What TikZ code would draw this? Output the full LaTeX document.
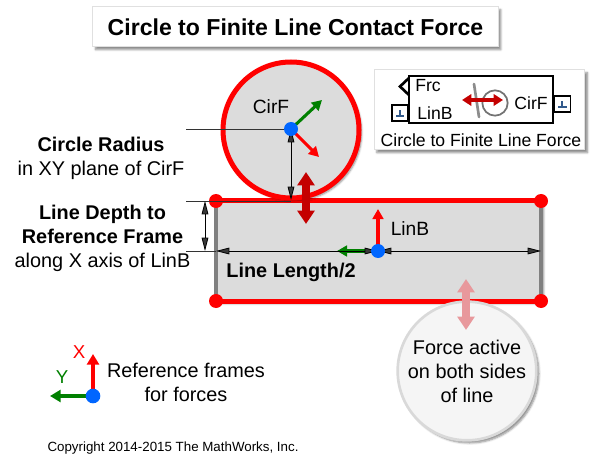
\documentclass[tikz,border=0pt]{standalone}
\usepackage{fontspec}
\setmainfont{Liberation Sans}
\usetikzlibrary{arrows.meta,shadows.blur}
\definecolor{lineRed}{RGB}{255,0,0}
\definecolor{forceRed}{RGB}{196,0,0}
\definecolor{forcePink}{RGB}{232,152,156}
\definecolor{frameGreen}{RGB}{0,128,0}
\definecolor{frameBlue}{RGB}{0,102,255}
\definecolor{bodyGray}{RGB}{220,220,220}
\definecolor{portBlue}{RGB}{50,90,140}
\tikzset{
	softshadow/.style={blur shadow={shadow xshift=2pt,shadow yshift=-2pt,shadow blur radius=1.5pt,shadow blur steps=5,shadow opacity=45}},
	card/.style={draw=black!12,line width=0.75pt,fill=white,softshadow},
	label/.style={inner sep=0pt,font=\fontsize{14.9}{18}\selectfont,align=center},
	boldlabel/.style={label,font=\fontsize{14.9}{18}\selectfont\bfseries},
	blocklabel/.style={inner sep=0pt,font=\fontsize{13.2}{15}\selectfont},
	corner/.style={circle,fill=lineRed,minimum size=10.5pt,inner sep=0pt},
	framedot/.style={circle,fill=frameBlue,minimum size=10.5pt,inner sep=0pt},
	frameaxis/.style={line width=3pt,-{Triangle[width=9pt,length=8pt]}},
	thinaxis/.style={line width=2.3pt,-{Triangle[width=8pt,length=7.5pt]}},
	dimline/.style={line width=0.6pt,{Triangle[width=5pt,length=10pt]}-{Triangle[width=5pt,length=10pt]}},
	guideline/.style={line width=0.45pt,black!80},
	forcearrow/.style={line width=5.5pt,{Triangle[width=12.5pt,length=10pt]}-{Triangle[width=12.5pt,length=10pt]}},
	redline/.style={line width=3.75pt,lineRed}
}

\begin{document}
\begin{tikzpicture}[x=0.75pt,y=-0.75pt]
	%%%%% START %%%%%
	\useasboundingbox (0,0) rectangle (595,463);
	
	\node[card,minimum width=304pt,minimum height=30pt] (titlebox) at (295.5,27) {};
	\node[inner sep=0pt,font=\fontsize{17.3}{20}\selectfont\bfseries] (title) at (titlebox.center) {Circle to Finite Line Contact Force};
	
	% line body
	\coordinate (nw) at (216,201);
	\coordinate (ne) at (541,201);
	\coordinate (sw) at (216,301);
	\coordinate (se) at (541,301);
	\fill[bodyGray,softshadow] (nw) rectangle (se);
	\draw[line width=2.6pt,black!50] (nw) -- (sw);
	\draw[line width=2.6pt,black!50] (ne) -- (se);
	\draw[redline] (nw) -- (ne);
	\draw[redline] (sw) -- (se);
	\node[corner] (cnw) at (nw) {};
	\node[corner] (cne) at (ne) {};
	\node[corner] (csw) at (sw) {};
	\node[corner] (cse) at (se) {};
	
	% circle body
	\node[circle,draw=lineRed,line width=3.75pt,fill=bodyGray,minimum size=102pt,inner sep=0pt,softshadow] (circ) at (291,130) {};
	\node[inner sep=0pt,font=\fontsize{14.4}{16}\selectfont] (cirlabel) at (271,107) {CirF};
	
	% guide lines and dimensions
	\coordinate (cirF) at (291,129);
	\coordinate (linB) at (378,251);
	\coordinate (cirbot) at (291,200);
	\coordinate (guideA) at (186,129);
	\coordinate (guideB) at (186,201);
	\coordinate (guideC) at (186,251);
	\coordinate (depthtop) at (205,201);
	\coordinate (depthbot) at (205,251);
	\coordinate (lenleft) at (216,251);
	\coordinate (lenright) at (541,251);
	\draw[guideline] (guideA) -- (cirF);
	\draw[guideline] (guideB) -- (nw);
	\draw[guideline] (nw) -- (cirbot |- nw);
	\draw[guideline] (guideC) -- (lenleft);
	\draw[dimline] (cirF) -- (cirbot);
	\draw[dimline] (depthtop) -- (depthbot);
	
	% frame of circle
	\coordinate (cirX) at (319,157);
	\coordinate (cirY) at (322,100);
	\draw[thinaxis,lineRed] (cirF) -- (cirX);
	\draw[thinaxis,frameGreen] (cirF) -- (cirY);
	
	% frame of line
	\coordinate (linX) at (378,209);
	\coordinate (linY) at (337,251);
	\draw[thinaxis,lineRed] (linB) -- (linX);
	\draw[thinaxis,frameGreen] (linB) -- (linY);
	\draw[dimline] (lenleft) -- (linB);
	\draw[dimline] (linB) -- (lenright);
	\node[framedot] (dotcir) at (cirF) {};
	\node[framedot] (dotlin) at (linB) {};
	\node[inner sep=0pt,font=\fontsize{14.4}{16}\selectfont] (linlabel) at (410,229) {LinB};
	\node[boldlabel] (lenlabel) at (291,272) {Line Length/2};
	
	% force in contact
	\coordinate (ftop) at (306,172);
	\coordinate (fbot) at (306,224);
	\draw[forcearrow,forceRed] (ftop) -- (fbot);
	
	% left labels
	\node[label] (radlabel) at (101,158) {\textbf{Circle Radius}\\in XY plane of CirF};
	\node[label] (deplabel) at (102.5,238) {\textbf{Line Depth to}\\\textbf{Reference Frame}\\along X axis of LinB};
	
	% force note
	\node[circle,draw=black!15,line width=2pt,fill=black!4,minimum size=104pt,inner sep=0pt,softshadow] (note) at (467,371) {};
	\node[label] (notetext) at (467,371) {Force active\\on both sides\\of line};
	\coordinate (ptop) at (466,279);
	\coordinate (pbot) at (466,330);
	\draw[forcearrow,forcePink] (ptop) -- (pbot);
	
	% block card
	\node[card,minimum width=158pt,minimum height=60pt] (blockcard) at (479.5,110) {};
	\node[draw=black,line width=1.2pt,fill=white,minimum width=108pt,minimum height=35pt,inner sep=0pt] (block) at (481,99.5) {};
	\node[blocklabel] (frc) at (428,86) {Frc};
	\node[blocklabel] (lin) at (435,113) {LinB};
	\node[blocklabel] (cir) at (531,103) {CirF};
	\node[blocklabel] (blockname) at (481,140) {Circle to Finite Line Force};
	\draw[line width=2pt] (409,78) -- (400,86.5) -- (409,95);
	\node[draw=black,line width=1.2pt,fill=white,minimum size=12pt,inner sep=0pt] (portlin) at (400,113) {};
	\node[draw=black,line width=1.2pt,fill=white,minimum size=12pt,inner sep=0pt] (portcir) at (562.5,104) {};
	\draw[line width=0.8pt,portBlue] (396,116) -- (404,116) (400,116) -- (400,110);
	\draw[line width=0.8pt,portBlue] (558,107) -- (567,107) (562,107) -- (562,101);
	\node[circle,draw=black!55,line width=1.3pt,minimum size=19pt,inner sep=0pt] (iconcirc) at (495,103) {};
	\coordinate (icontop) at (474,84);
	\coordinate (iconbot) at (479,117);
	\draw[line width=2pt,black!45,line cap=round] (icontop) -- (iconbot);
	\coordinate (iconleft) at (462,100);
	\coordinate (iconright) at (503,100);
	\draw[line width=3pt,forceRed,{Triangle[width=8.5pt,length=7pt]}-{Triangle[width=8.5pt,length=7pt]}] (iconleft) -- (iconright);
	
	% legend
	\coordinate (legO) at (93,396);
	\coordinate (legX) at (93,354);
	\coordinate (legY) at (50,396);
	\draw[frameaxis,lineRed] (legO) -- (legX);
	\draw[frameaxis,frameGreen] (legO) -- (legY);
	\node[framedot,minimum size=11pt] (legdot) at (legO) {};
	\node[inner sep=0pt,font=\fontsize{14}{16}\selectfont,text=lineRed] (legXlabel) at (79,352) {X};
	\node[inner sep=0pt,font=\fontsize{14}{16}\selectfont,text=frameGreen] (legYlabel) at (62,377) {Y};
	\node[label] (legtext) at (186,382) {Reference frames\\for forces};
	
	\node[inner sep=0pt,font=\fontsize{10}{12}\selectfont] (copyright) at (173,448) {Copyright 2014-2015 The MathWorks, Inc.};
	%%%%% END %%%%%
\end{tikzpicture}
\end{document}
